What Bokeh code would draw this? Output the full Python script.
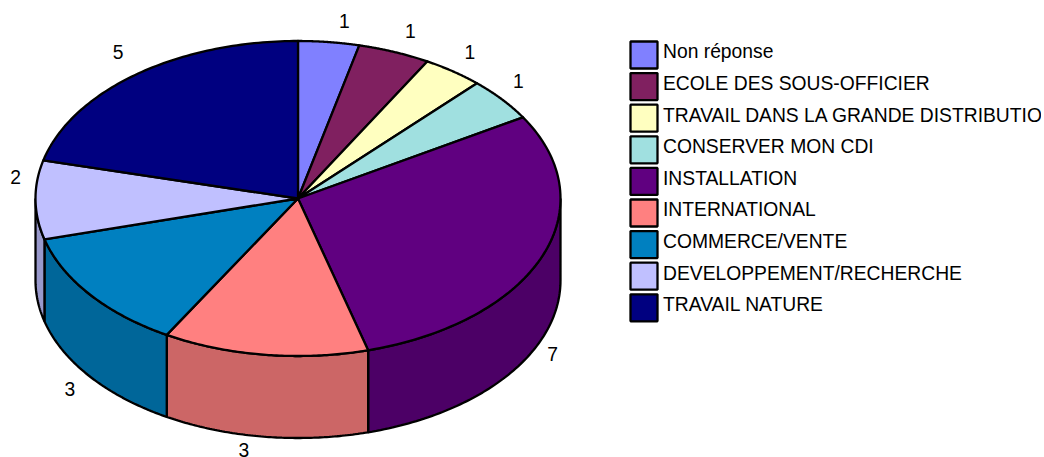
import numpy as np
from bokeh.plotting import figure
from bokeh.embed import file_html
from bokeh.resources import INLINE
from bokeh.core.properties import value

categories = ["Non réponse", "ECOLE DES SOUS-OFFICIER", "TRAVAIL DANS LA GRANDE DISTRIBUTION",
              "CONSERVER MON CDI", "INSTALLATION", "INTERNATIONAL", "COMMERCE/VENTE",
              "DEVELOPPEMENT/RECHERCHE", "TRAVAIL NATURE"]
counts = [1, 1, 1, 1, 7, 3, 3, 2, 5]
top_colors = ["#8080ff", "#802060", "#ffffc0", "#a0e0e0", "#600080", "#ff8080", "#0080c0", "#c0c0ff", "#000080"]
side_colors = ["#6666cc", "#661a4d", "#cccc99", "#80b3b3", "#4c0066", "#cc6666", "#006699", "#9999cc", "#000066"]
# small drawing corrections (degrees) for the slice boundaries of the tilted view
edge_nudge = [0.0, -1.5, -0.5, -2.0, -1.0, -0.5, 0.0, 0.0, -1.0, 0.0]

FONT = "Liberation Sans"
FS = "19.3px"
LW = 2.3
CX, CY, RX, RY, DEPTH = 297.5, 198.0, 262.5, 157.5, 82.0

p = figure(width=1041, height=457, x_range=(0, 1041), y_range=(457, 0),
           output_backend="svg", toolbar_location=None, min_border=0)
p.axis.visible = False
p.grid.visible = False
p.outline_line_color = None


def pt(a_deg, dy=0.0):
    a = np.radians(a_deg)
    return CX + RX * np.sin(a), CY - RY * np.cos(a) + dy


true_edges = np.concatenate([[0.0], np.cumsum(counts)]) / sum(counts) * 360.0
edges = true_edges + np.array(edge_nudge)

# side wall (front half of the cylinder only)
for i in range(len(counts)):
    a0, a1 = max(edges[i], 90.0), min(edges[i + 1], 270.0)
    if a1 <= a0:
        continue
    aa = np.linspace(a0, a1, 80)
    xt, yt = pt(aa)
    xb, yb = pt(aa[::-1], DEPTH)
    p.patch(np.r_[xt, xb], np.r_[yt, yb], fill_color=side_colors[i], line_color="black", line_width=LW)

# top face
for i in range(len(counts)):
    aa = np.linspace(edges[i], edges[i + 1], 80)
    xt, yt = pt(aa)
    p.patch(np.r_[CX, xt], np.r_[CY, yt], fill_color=top_colors[i], line_color="black",
            line_width=LW, line_join="round")

# value labels
for i, c in enumerate(counts):
    mid = (true_edges[i] + true_edges[i + 1]) / 2
    front = 90.0 < mid < 270.0
    x, y = pt(mid, DEPTH if front else 0.0)
    x += 12 if mid < 180 else -20
    y += 13 if front else -21.5
    p.text([x], [y], text=[str(c)], text_font=value(FONT), text_font_size=FS,
           text_color="black", text_align="center", text_baseline="middle")

# legend
for i, name in enumerate(categories):
    yc = 54.5 + i * 31.6
    p.quad(left=[630], right=[657], top=[yc - 13.5], bottom=[yc + 13.5],
           fill_color=top_colors[i], line_color="black", line_width=LW)
    p.text([662.5], [yc - 3.2], text=[name], text_font=value(FONT), text_font_size=FS,
           text_color="black", text_align="left", text_baseline="middle")

open("out.html", "w").write(file_html(p, INLINE))
